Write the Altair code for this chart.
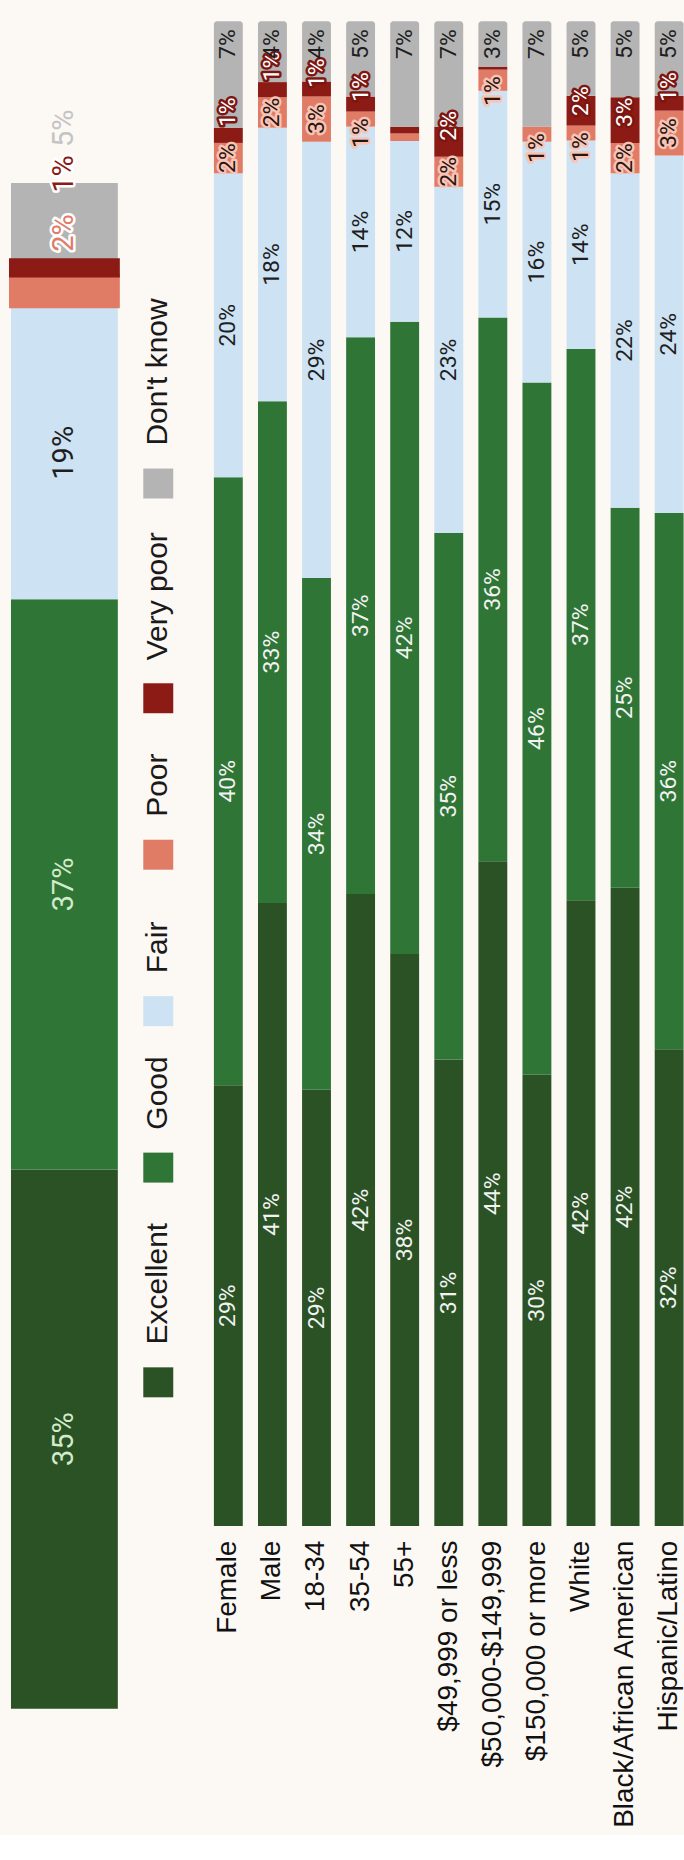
import altair as alt
import pandas as pd

# ---------------- data ----------------
levels = ["Excellent", "Good", "Fair", "Poor", "Very poor", "Don't know"]
colors = ["#2a5225", "#2e7536", "#cde2f2", "#e07b66", "#8c1b15", "#b4b4b4"]

overall_name = "Overall"
overall = [35, 37, 19, 2, 1, 5]

groups = ["Female", "Male", "18-34", "35-54", "55+", "$49,999 or less",
          "$50,000-$149,999", "$150,000 or more", "White",
          "Black/African American", "Hispanic/Latino"]
excellent = [29, 41, 29, 42, 38, 31, 44, 30, 42, 42, 32]
good      = [40, 33, 34, 37, 42, 35, 36, 46, 37, 25, 36]
fair      = [20, 18, 29, 14, 12, 23, 15, 16, 14, 22, 24]
poor      = [2, 2, 3, 1, 0.5, 2, 1.4, 1, 1, 2, 3]
very_poor = [1, 1, 1, 1, 0.45, 2, 0.2, 0, 2, 3, 1]
dont_know = [7, 4, 4, 5, 7, 7, 3, 7, 5, 5, 5]

# ---------------- layout ----------------
BG = "#fcf8f4"
BAR_H = 1507          # plot height of subgroup bars
GROUP_W = 485.6
OV_VIEW_H = 1690
OV_BAR_H = 1528
OV_W = 107
LEG_W = 41
G_FONT = 23
O_FONT = 29


def stack(name, vals, H, txt_len, sep=46, pad=8):
    total = float(sum(vals))
    rows, cum = [], 0.0
    for lvl, v in zip(levels, vals):
        s, e = cum / total, (cum + v) / total
        cum += v
        rows.append({"group": name, "level": lvl, "start": s, "end": e,
                     "label": f"{int(round(v))}%" if v >= 1 else "",
                     "pos": (s + e) / 2})

    def small(r):
        if (r["end"] - r["start"]) * H >= txt_len:
            return (r["start"] + r["end"]) / 2
        return r["end"] - (pad + txt_len / 2) / H

    rows[3]["pos"] = small(rows[3])
    rows[4]["pos"] = small(rows[4])
    if rows[3]["label"] and rows[4]["label"]:
        rows[4]["pos"] = max(rows[4]["pos"], rows[3]["pos"] + sep / H)
    rows[5]["pos"] = rows[5]["end"]
    return rows


grows = []
for i, g in enumerate(groups):
    grows += stack(g, [excellent[i], good[i], fair[i], poor[i], very_poor[i], dont_know[i]],
                   BAR_H, 27)
gdf = pd.DataFrame(grows)

orows = stack(overall_name, overall, OV_BAR_H, 37)
outside = {"Poor": -50, "Very poor": 9, "Don't know": 55}
for r in orows:
    if r["level"] in outside:
        r["pos"] = 1 + outside[r["level"]] / OV_BAR_H
odf = pd.DataFrame(orows)

leg_pos = []
p = 1363.0
for lvl in levels:
    leg_pos.append(p)
    p -= 110 + 11.67 * len(lvl)
ldf = pd.DataFrame({"level": levels, "pos": leg_pos})

cscale = alt.Scale(domain=levels, range=colors)
DK = "datum.level === \"Don't know\""

# ---------------- subgroup chart ----------------
yg = alt.Scale(domain=[0, 1])
xg = alt.X("group:N", sort=groups, title=None,
           scale=alt.Scale(paddingInner=0.3448, paddingOuter=0.1724, align=1),
           axis=alt.Axis(labelAngle=270, labelAlign="right", labelBaseline="middle",
                         labelFontSize=28, labelFont="Liberation Sans", labelColor="#111111",
                         labelPadding=14, ticks=False, domain=False, labelLimit=600,
                         grid=False))
gb = alt.Chart(gdf)
g_enc = dict(x=xg, y=alt.Y("start:Q", scale=yg, axis=None), y2="end:Q",
             color=alt.Color("level:N", scale=cscale, legend=None))
g_bars = gb.transform_filter("!(" + DK + ")").mark_bar().encode(**g_enc)
g_dk = gb.transform_filter(DK).mark_bar(cornerRadiusTopLeft=3, cornerRadiusTopRight=3).encode(**g_enc)


def gtext(expr, **kw):
    base = dict(angle=270, baseline="middle", font="Roboto", fontSize=G_FONT)
    base.update(kw)
    return gb.transform_filter("datum.label !== '' && (" + expr + ")").mark_text(**base).encode(
        x=xg, y=alt.Y("pos:Q", scale=yg, axis=None), text="label:N")


g_layers = [
    g_bars, g_dk,
    gtext("datum.level === 'Excellent' || datum.level === 'Good'", align="center", fill="#f2f2f2"),
    gtext("datum.level === 'Fair'", align="center", fill="#1e1e1e"),
    gtext("datum.level === 'Poor'", align="center", fill="#f7c4b6", stroke="#f7c4b6",
          strokeWidth=5, strokeJoin="round"),
    gtext("datum.level === 'Poor'", align="center", fill="#2a1410"),
    gtext("datum.level === 'Very poor'", align="center", fill="#7d1510", stroke="#7d1510",
          strokeWidth=5, strokeJoin="round"),
    gtext("datum.level === 'Very poor'", align="center", fill="#ffffff"),
    gtext(DK, align="right", dx=-8, fill="#1e1e1e"),
]
grp_chart = alt.layer(*g_layers).properties(width=GROUP_W, height=BAR_H)

# ---------------- overall chart ----------------
yo = alt.Scale(domain=[0, OV_VIEW_H / OV_BAR_H])
xo = alt.X("group:N", scale=alt.Scale(paddingInner=0, paddingOuter=0), axis=None)
ob = alt.Chart(odf)
o_enc = dict(x=xo, y=alt.Y("start:Q", scale=yo, axis=None), y2="end:Q",
             color=alt.Color("level:N", scale=cscale, legend=None))
o_bars = ob.transform_filter("datum.level !== 'Poor' && datum.level !== 'Very poor'").mark_bar().encode(**o_enc)
o_bad = ob.transform_filter("datum.level === 'Poor' || datum.level === 'Very poor'").mark_bar(
    strokeWidth=4).encode(stroke=alt.Stroke("level:N", scale=cscale, legend=None), **o_enc)


def otext(expr, **kw):
    base = dict(angle=270, baseline="middle", align="center", font="Roboto", fontSize=O_FONT)
    base.update(kw)
    return ob.transform_filter(expr).mark_text(**base).encode(
        x=xo, y=alt.Y("pos:Q", scale=yo, axis=None), text="label:N")


o_layers = [
    o_bars, o_bad,
    otext("datum.level === 'Excellent' || datum.level === 'Good'", fill="#d3eacb"),
    otext("datum.level === 'Fair'", fill="#1e1e1e"),
    otext("datum.level === 'Poor'", fill="#ffffff", stroke="#ffffff", strokeWidth=5, strokeJoin="round"),
    otext("datum.level === 'Poor'", fill="#e07b66"),
    otext("datum.level === 'Very poor'", fill="#ffffff", stroke="#ffffff", strokeWidth=5, strokeJoin="round"),
    otext("datum.level === 'Very poor'", fill="#8c1b15"),
    otext(DK, fill="#c4c4c4"),
]
ov_chart = alt.layer(*o_layers).properties(width=OV_W, height=OV_VIEW_H)

# ---------------- legend ----------------
yl = alt.Y("pos:Q", scale=alt.Scale(domain=[0, OV_VIEW_H], reverse=True), axis=None)
lb = alt.Chart(ldf)
l_sw = lb.mark_square(size=900, opacity=1, filled=True).encode(
    x=alt.value(LEG_W / 2), y=yl, color=alt.Color("level:N", scale=cscale, legend=None))
l_tx = lb.mark_text(angle=270, align="left", baseline="middle", dx=38, font="Liberation Sans",
                    fontSize=30, fill="#1a1a1a").encode(x=alt.value(LEG_W / 2), y=yl, text="level:N")
leg_chart = alt.layer(l_sw, l_tx).properties(width=LEG_W, height=OV_VIEW_H)

chart = alt.hconcat(ov_chart, leg_chart, grp_chart, spacing=20, bounds="flush").properties(
    background=BG, padding={"left": 9, "top": 20, "right": 0, "bottom": 4}
).configure_view(stroke=None)

chart.save("out.html", embed_options={"renderer": "svg", "actions": False})
